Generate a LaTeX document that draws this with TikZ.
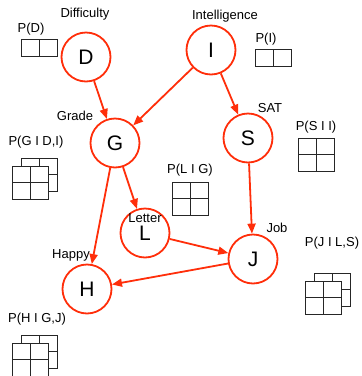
\documentclass[tikz,border=0pt]{standalone}
\usepackage{fontspec}
\setmainfont{Liberation Sans}
\usetikzlibrary{arrows.meta}
\definecolor{nred}{HTML}{FF2E0A}
\tikzset{
  tabline/.style={draw=black!85,line width=0.9pt},
  tabone/.pic={\draw[tabline] (0,0) rectangle (36,17); \draw[tabline] (18,0) -- (18,17);},
  tabtwo/.pic={\draw[tabline] (0,0) rectangle (36,33); \draw[tabline] (18,0) -- (18,33); \draw[tabline] (0,16.5) -- (36,16.5);},
  tabstack/.pic={\path (9,-8) pic{tabtwo}; \fill[white] (0,0) rectangle (36,33); \path (0,0) pic{tabtwo};},
}
\begin{document}
\begin{tikzpicture}[x=1pt,y=-1pt,
  var/.style={circle,draw=nred,line width=1.8pt,minimum size=49pt,inner sep=0pt,font=\fontsize{21}{21}\selectfont},
  lbl/.style={font=\fontsize{13}{13}\selectfont,inner sep=0pt},
  edge/.style={draw=nred,line width=1.8pt,-{Triangle[length=10pt,width=8pt]}}]
\useasboundingbox (0,0) rectangle (362,376);
\clip (0,0) rectangle (362,376);
% variables
\node[var] (D) at (86,57) {D};
\node[var] (I) at (211,50) {I};
\node[var] (G) at (115,143) {G};
\node[var] (S) at (248,138) {S};
\node[var] (L) at (145,233) {\raisebox{-1.5pt}{L}};
\node[var] (J) at (253,259) {J};
\node[var] (H) at (87,289) {H};
% names
\node[lbl] (tD) at (85,14) {Difficulty};
\node[lbl] (tI) at (225,16) {Intelligence};
\node[lbl] (tG) at (75,116) {Grade};
\node[lbl] (tS) at (270,108) {SAT};
\node[lbl] (tL) at (145,218) {Letter};
\node[lbl] (tJ) at (277,228) {Job};
\node[lbl] (tH) at (71,255) {Happy};
% CPD labels
\node[lbl] (pD) at (31,29) {P(D)};
\node[lbl] (pI) at (266,39) {P(I)};
\node[lbl] (pS) at (316,127) {P(S I I)};
\node[lbl] (pG) at (36,142) {P(G I D,I)};
\node[lbl] (pL) at (190,170) {P(L I G)};
\node[lbl] (pJ) at (332,243) {P(J I L,S)};
\node[lbl] (pH) at (37,319) {P(H I G,J)};
% tables
\path (21,39) pic{tabone};
\path (255,49) pic{tabone};
\path (298,138) pic{tabtwo};
\path (172,182) pic{tabtwo};
\path (12,166) pic{tabstack};
\path (305,281) pic{tabstack};
\path (12,343) pic{tabstack};
% edges
\draw[edge] (D) -- (G);
\draw[edge] (I) -- (G);
\draw[edge] (I) -- (S);
\draw[edge] (G) -- (L);
\draw[edge] (G) -- (H);
\draw[edge] (S) -- (J);
\draw[edge] (L) -- (J);
\draw[edge] (J) -- (H);
\end{tikzpicture}
\end{document}
